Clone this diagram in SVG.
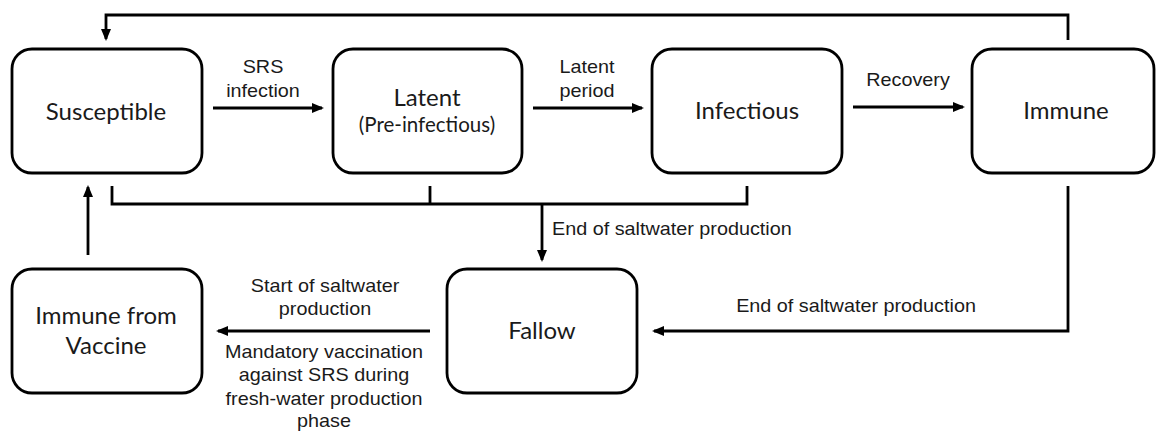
<svg xmlns="http://www.w3.org/2000/svg" width="1156" height="432" viewBox="0 0 1156 432">
<style>
.box{fill:#fff;stroke:#000;stroke-width:2.8}
.node{font-family:Lato,"Open Sans","Liberation Sans",sans-serif;font-size:24px;fill:#1a1a1a;text-anchor:middle}
.sub{font-size:20.5px}
.lbl{font-family:"Liberation Sans",Arial,sans-serif;font-size:18px;fill:#1a1a1a;text-anchor:middle}
.st{text-anchor:start}
.con{fill:none;stroke:#000;stroke-width:2.8}
.arr{marker-end:url(#ah)}
</style>
<defs>
<marker id="ah" markerUnits="userSpaceOnUse" markerWidth="12" markerHeight="10" refX="10" refY="5" orient="auto">
<path d="M0,0 L12,5 L0,10 z" fill="#000"/>
</marker>
</defs>
<rect width="1156" height="432" fill="#fff"/>
<g id="connectors">
<path class="con arr" d="M1068,40 V15 H106 V39"/>
<path class="con arr" d="M213,108 H322"/>
<path class="con arr" d="M533,108 H642"/>
<path class="con arr" d="M853,107 H963"/>
<path class="con" d="M112,186 V204 H747 V186 M430,186 V204"/>
<path class="con arr" d="M542,204 V260"/>
<path class="con arr" d="M88,255 V187"/>
<path class="con arr" d="M430,331 H218"/>
<path class="con arr" d="M1068,186 V331 H654"/>
<g id="labels">
<text class="lbl" transform="translate(263 73) scale(1.1 1)">SRS</text>
<text class="lbl" transform="translate(263 97) scale(1.1 1)">infection</text>
<text class="lbl" transform="translate(587 73) scale(1.1 1)">Latent</text>
<text class="lbl" transform="translate(587 97) scale(1.1 1)">period</text>
<text class="lbl" transform="translate(908 86) scale(1.1 1)">Recovery</text>
<text class="lbl st" transform="translate(552 235) scale(1.1 1)">End of saltwater production</text>
<text class="lbl" transform="translate(856 312) scale(1.1 1)">End of saltwater production</text>
<text class="lbl" transform="translate(325 292) scale(1.1 1)">Start of saltwater</text>
<text class="lbl" transform="translate(325 315) scale(1.1 1)">production</text>
<text class="lbl" transform="translate(324 358) scale(1.1 1)">Mandatory vaccination</text>
<text class="lbl" transform="translate(324 381) scale(1.1 1)">against SRS during</text>
<text class="lbl" transform="translate(324 405) scale(1.1 1)">fresh-water production</text>
<text class="lbl" transform="translate(324 427) scale(1.1 1)">phase</text>
</g>
</g>
<g id="susceptible">
<rect class="box" x="12" y="49" width="190" height="124" rx="20"/>
<text class="node" x="106" y="120">Susceptible</text>
</g>
<g id="latent">
<rect class="box" x="333" y="49" width="189" height="124" rx="20"/>
<text class="node" x="427" y="106">Latent</text>
<text class="node sub" x="427" y="132">(Pre-infectious)</text>
</g>
<g id="infectious">
<rect class="box" x="652" y="49" width="190" height="124" rx="20"/>
<text class="node" x="747" y="119">Infectious</text>
</g>
<g id="immune">
<rect class="box" x="972" y="49" width="182" height="124" rx="20"/>
<text class="node" x="1066" y="119">Immune</text>
</g>
<g id="vaccine">
<rect class="box" x="12" y="269" width="190" height="124" rx="20"/>
<text class="node" x="106" y="324">Immune from</text>
<text class="node" x="106" y="354">Vaccine</text>
</g>
<g id="fallow">
<rect class="box" x="447" y="269" width="190" height="124" rx="20"/>
<text class="node" x="542" y="339">Fallow</text>
</g>
</svg>
